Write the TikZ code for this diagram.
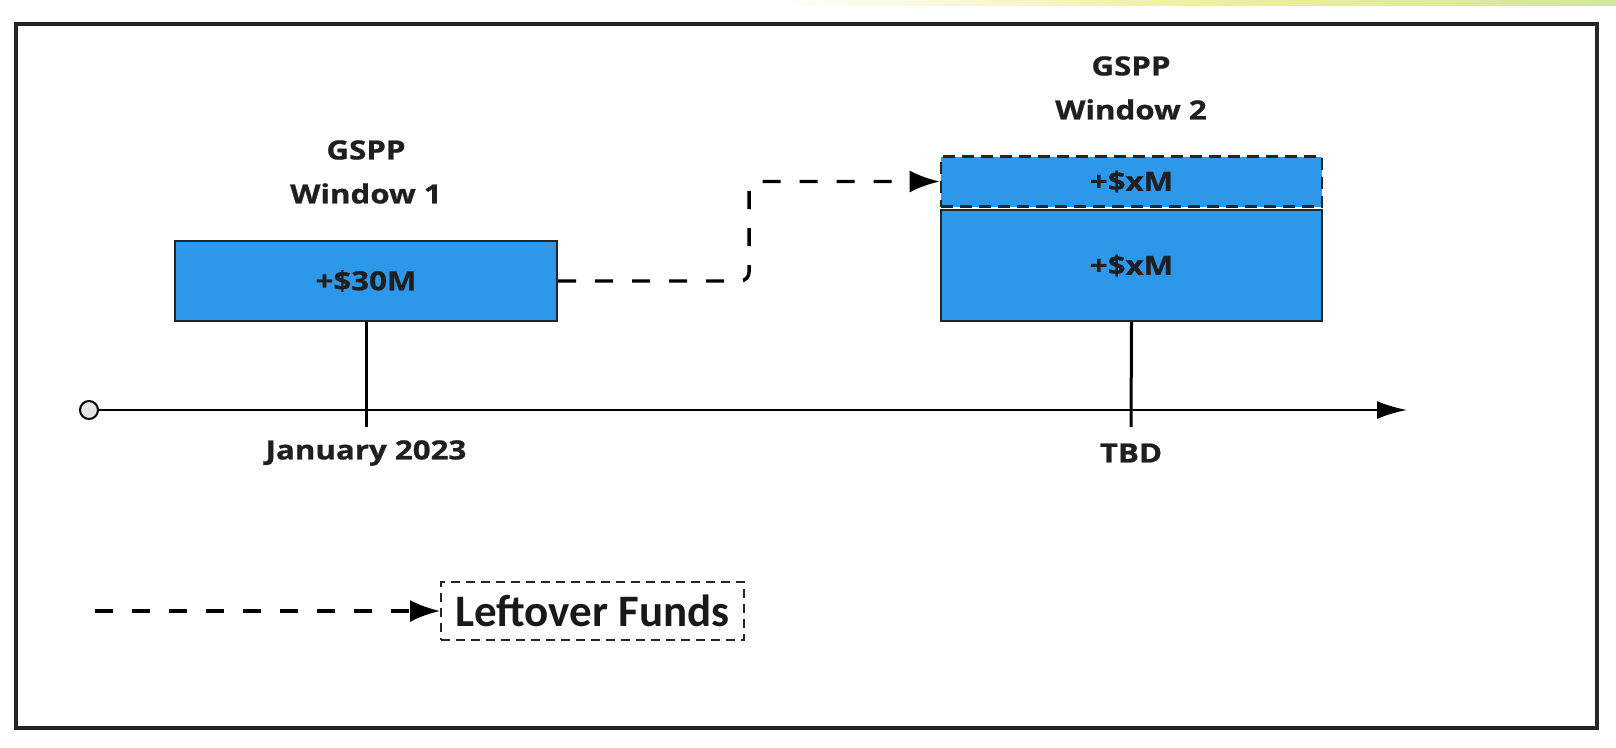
\documentclass[tikz,border=0pt]{standalone}
\usepackage{fontspec}
\usetikzlibrary{arrows.meta}
\newfontfamily\labelfont{Open Sans}[FakeStretch=1.18, FakeBold=0.8]
\newfontfamily\legendfont{Carlito}
\definecolor{fundblue}{HTML}{2D97EA}
\definecolor{framegray}{HTML}{262626}
\definecolor{stripyellow}{HTML}{EEF0A2}
\definecolor{stripgreen}{HTML}{D3E4A4}
\begin{document}
\begin{tikzpicture}[x=1pt,y=-1pt,
  lbl/.style={font=\labelfont\bfseries\fontsize{26.5}{44}\selectfont, text=black!88, align=center, inner sep=0pt},
  fundbox/.style={draw=black!85, line width=2.2pt, fill=fundblue, inner sep=0pt,
    font=\labelfont\bfseries\fontsize{26.5}{30}\selectfont, text=black!88},
  extrabox/.style={fundbox, dashed, dash pattern=on 12pt off 7pt, line width=2.6pt},
  tickline/.style={line width=3pt, black},
  axisline/.style={line width=2.4pt, black, -{Latex[length=30pt,width=18pt]}},
  flow/.style={line width=3.4pt, black, dash pattern=on 18pt off 19pt,
    -{Latex[length=30pt,width=22pt]}},
  legendbox/.style={draw=black!85, line width=1.8pt, dash pattern=on 9pt off 6pt,
    minimum width=303pt, minimum height=58pt, inner sep=0pt,
    font=\legendfont\bfseries\fontsize{45}{50}\selectfont, text=black!90}
]
\useasboundingbox (0,0) rectangle (1616,747);

% thin decorative strip along the top edge
\shade[left color=white, right color=stripgreen, middle color=stripyellow]
  (777,0) rectangle (1616,5);

% outer frame
\draw[framegray, line width=3.2pt] (16,24) rectangle (1597,728);

% window 1
\node[lbl] (t1) at (366,172) {GSPP\\Window 1};
\node[fundbox, minimum width=382pt, minimum height=80pt] (w1) at (366,281) {+\$30M};

% window 2: base amount plus leftover amount on top
\node[lbl] (t2) at (1131,88) {GSPP\\Window 2};
\node[extrabox, minimum width=381pt, minimum height=50pt] (w2top) at (1131.5,181.5) {+\$xM};
\node[fundbox, minimum width=381pt, minimum height=111pt] (w2) at (1131.5,265.5) {+\$xM};

% timeline
\node[circle, draw=black, line width=2pt, fill=black!10, minimum size=18pt, inner sep=0pt] (origin) at (89,410) {};
\coordinate (axisend) at (1407,410);
\draw[axisline] (origin) -- (axisend);

\coordinate (tick1) at (366,427);
\coordinate (tick2) at (1131,427);
\draw[tickline] (w1.south) -- (tick1);
\draw[tickline] (w2.south) -- (tick2);

\node[lbl] (d1) at (366,453) {January 2023};
\node[lbl] (d2) at (1131,453) {TBD};

% leftover funds carried into window 2
\draw[flow, rounded corners=9pt] (w1.east) -- ++(191,0) |- (w2top.west);

% legend
\node[legendbox] (leg) at (592.5,611) {Leftover Funds};
\coordinate (legstart) at (95,611);
\draw[flow] (legstart) -- (leg.west);
\end{tikzpicture}
\end{document}
